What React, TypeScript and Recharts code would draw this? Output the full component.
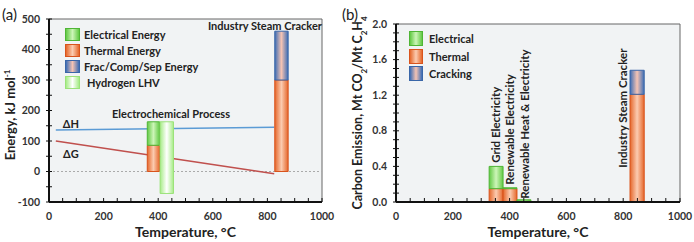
import React from "react";
import {
  CartesianGrid,
  ComposedChart,
  Line,
  ReferenceArea,
  ReferenceDot,
  ReferenceLine,
  XAxis,
  YAxis
} from "recharts";

const FONT = "Lato, 'Open Sans', sans-serif";

// shared temperature axis
const tempTicks = [0, 50, 100, 150, 200, 250, 300, 350, 400, 450, 500, 550, 600, 650, 700, 750, 800, 850, 900, 950, 1000];

// (a) energy panel
const energyTicks = [-100, -50, 0, 50, 100, 150, 200, 250, 300, 350, 400, 450, 500];
const lineTemps = [25, 825];
const deltaH = [136, 145];
const deltaG = [100, -7];
const energySegments = [
  { x0: 360, x1: 405, y0: 0, y1: 86, kind: "thermal" },
  { x0: 360, x1: 405, y0: 86, y1: 163, kind: "electrical" },
  { x0: 407, x1: 456, y0: -72, y1: 163, kind: "h2" },
  { x0: 827, x1: 876, y0: 0, y1: 300, kind: "thermal" },
  { x0: 827, x1: 876, y0: 300, y1: 460, kind: "frac" }
];
const energyLegend = [
  { kind: "electrical", label: "Electrical Energy" },
  { kind: "thermal", label: "Thermal Energy" },
  { kind: "frac", label: "Frac/Comp/Sep Energy" },
  { kind: "h2", label: "Hydrogen LHV" }
];

// (b) carbon panel
const carbonTicks = [0, 0.1, 0.2, 0.3, 0.4, 0.5, 0.6, 0.7, 0.8, 0.9, 1.0, 1.1, 1.2, 1.3, 1.4, 1.5, 1.6, 1.7, 1.8, 1.9, 2.0];
const carbonSegments = [
  { x0: 328, x1: 377, y0: 0, y1: 0.15, kind: "thermal" },
  { x0: 328, x1: 377, y0: 0.15, y1: 0.4, kind: "electrical" },
  { x0: 377, x1: 426, y0: 0, y1: 0.15, kind: "thermal" },
  { x0: 377, x1: 426, y0: 0.15, y1: 0.16, kind: "electrical" },
  { x0: 426, x1: 475, y0: 0, y1: 0.01, kind: "thermal" },
  { x0: 426, x1: 475, y0: 0.01, y1: 0.025, kind: "electrical" },
  { x0: 824, x1: 874, y0: 0, y1: 1.21, kind: "thermal" },
  { x0: 824, x1: 874, y0: 1.21, y1: 1.48, kind: "frac" }
];
const carbonLabels = [
  { t: 352, v: 0.44, text: "Grid Electricity" },
  { t: 401, v: 0.195, text: "Renewable Electricity" },
  { t: 454, v: 0.037, text: "Renewable Heat & Electricity" },
  { t: 798, v: 0.385, text: "Industry Steam Cracker" }
];
const carbonLegend = [
  { kind: "electrical", label: "Electrical" },
  { kind: "thermal", label: "Thermal" },
  { kind: "frac", label: "Cracking" }
];

const palette: Record<string, { edge: string; mid: string; stroke: string }> = {
  thermal: { edge: "#e5672b", mid: "#fbcbb0", stroke: "#d9531c" },
  electrical: { edge: "#62c944", mid: "#cdf5b8", stroke: "#4fb535" },
  frac: { edge: "#3d6db5", mid: "#f5c3b3", stroke: "#3a66a8" },
  h2: { edge: "#a6ec86", mid: "#ffffff", stroke: "#9be27a" }
};

const lineData = lineTemps.map((t, i) => ({ t, dH: deltaH[i], dG: deltaG[i] }));

function Gradients({ prefix }: { prefix: string }) {
  return (
    <defs>
      {Object.keys(palette).map((k) => (
        <linearGradient key={k} id={`${prefix}-${k}`} x1="0" y1="0" x2="1" y2="0">
          <stop offset="0%" stopColor={palette[k].edge} />
          <stop offset="50%" stopColor={palette[k].mid} />
          <stop offset="100%" stopColor={palette[k].edge} />
        </linearGradient>
      ))}
    </defs>
  );
}

const tickText = { fontFamily: FONT, fontSize: 10.5, fontWeight: 700, fill: "#333" };

function TempTick(props: any) {
  const { x, y, payload } = props;
  const v = payload.value;
  return (
    <g>
      <line x1={x} x2={x} y1={y - 14} y2={y - 18} stroke="#111" strokeWidth={1} />
      {v % 200 === 0 && (
        <text x={x} y={y} dy="0.35em" textAnchor="middle" {...tickText}>
          {v}
        </text>
      )}
    </g>
  );
}

function makeYTick(isMajor: (v: number) => boolean, fmt: (v: number) => string) {
  return function YTick(props: any) {
    const { x, y, payload } = props;
    const v = payload.value;
    const ax = x + 9;
    return (
      <g>
        <line x1={ax - 3} x2={ax + 3} y1={y} y2={y} stroke="#111" strokeWidth={1} />
        {isMajor(v) && (
          <text x={x} y={y} dy="0.35em" textAnchor="end" {...tickText}>
            {fmt(v)}
          </text>
        )}
      </g>
    );
  };
}

const EnergyTick = makeYTick((v) => v % 100 === 0, (v) => String(v));
const CarbonTick = makeYTick((v) => Math.round(v * 10) % 4 === 0, (v) => v.toFixed(1));

function LegendBox(props: {
  items: { kind: string; label: string }[];
  left: number;
  top: number;
  rowH: number;
  sw: number;
  sh: number;
  indent: (k: string) => number;
}) {
  const { items, left, top, rowH, sw, sh, indent } = props;
  return (
    <div style={{ position: "absolute", left, top, fontFamily: FONT, fontSize: 11, fontWeight: 700, color: "#222" }}>
      {items.map((it) => {
        const p = palette[it.kind];
        return (
          <div key={it.kind} style={{ display: "flex", alignItems: "center", height: rowH }}>
            <div
              style={{
                width: sw,
                height: sh,
                boxSizing: "border-box",
                border: `1px solid ${p.stroke}`,
                background: `linear-gradient(to right, ${p.edge}, ${p.mid}, ${p.edge})`
              }}
            />
            <span style={{ marginLeft: indent(it.kind), whiteSpace: "nowrap" }}>{it.label}</span>
          </div>
        );
      })}
    </div>
  );
}

function textShape(text: string, opts: { rotate?: boolean; size?: number }) {
  return (p: any) => {
    const { cx, cy } = p;
    const size = opts.size ?? 11;
    if (opts.rotate) {
      return (
        <text
          x={cx}
          y={cy}
          transform={`rotate(-90 ${cx} ${cy})`}
          dy="0.35em"
          textAnchor="start"
          fontFamily={FONT}
          fontSize={size}
          fontWeight={700}
          fill="#222"
        >
          {text}
        </text>
      );
    }
    return (
      <text x={cx} y={cy} dy="0.35em" textAnchor="middle" fontFamily={FONT} fontSize={size} fontWeight={700} fill="#222">
        {text}
      </text>
    );
  };
}

function EnergyPanel() {
  return (
    <ComposedChart width={350} height={242} data={lineData} margin={{ top: 19, right: 28, bottom: 0, left: 0 }}>
      <Gradients prefix="ga" />
      <CartesianGrid horizontal={false} vertical={false} fill="#f1f3f4" />
      <XAxis
        type="number"
        dataKey="t"
        domain={[0, 1000]}
        ticks={tempTicks}
        interval={0}
        height={40}
        tickSize={0}
        tickMargin={14}
        tickLine={false}
        tick={<TempTick />}
        axisLine={{ stroke: "#111", strokeWidth: 2 }}
        allowDataOverflow
        label={{ value: "Temperature, °C", position: "insideBottom", offset: 5, fontFamily: FONT, fontSize: 14, fontWeight: 700, fill: "#222" }}
      />
      <YAxis
        type="number"
        domain={[-100, 500]}
        ticks={energyTicks}
        interval={0}
        width={49}
        tickSize={0}
        tickMargin={9}
        tickLine={false}
        tick={<EnergyTick />}
        axisLine={{ stroke: "#111", strokeWidth: 2 }}
        allowDataOverflow
        label={{
          content: () => (
            <text
              x={10}
              y={115}
              transform="rotate(-90 10 115)"
              dy="0.35em"
              textAnchor="middle"
              fontFamily={FONT}
              fontSize={13}
              fontWeight={700}
              fill="#222"
            >
              Energy, kJ mol
              <tspan baselineShift="super" fontSize={8}>-1</tspan>
            </text>
          )
        }}
      />
      <ReferenceLine y={500} stroke="#666" strokeWidth={1} />
      <ReferenceLine x={1000} stroke="#666" strokeWidth={1} />
      <ReferenceLine y={0} stroke="#aaa" strokeDasharray="2 2" strokeWidth={1} />
      <Line dataKey="dH" stroke="#5b9bd5" strokeWidth={1.5} dot={false} isAnimationActive={false} />
      <Line dataKey="dG" stroke="#c0504d" strokeWidth={1.5} dot={false} isAnimationActive={false} />
      {energySegments.map((s, i) => (
        <ReferenceArea
          key={i}
          x1={s.x0}
          x2={s.x1}
          y1={s.y0}
          y2={s.y1}
          fill={`url(#ga-${s.kind})`}
          fillOpacity={1}
          stroke={palette[s.kind].stroke}
          strokeWidth={1}
          {...({ zIndex: 500 } as any)}
        />
      ))}
      <ReferenceDot x={80} y={155} r={1} shape={textShape("ΔH", { size: 11 })} />
      <ReferenceDot x={80} y={57} r={1} shape={textShape("ΔG", { size: 11 })} />
      <ReferenceDot x={447} y={188} r={1} shape={textShape("Electrochemical Process", { size: 11 })} />
      <ReferenceDot x={791} y={478} r={1} shape={textShape("Industry Steam Cracker", { size: 11 })} />
    </ComposedChart>
  );
}

function CarbonPanel() {
  return (
    <ComposedChart width={344} height={242} data={lineData} margin={{ top: 24, right: 14, bottom: 0, left: 0 }}>
      <Gradients prefix="gb" />
      <CartesianGrid horizontal={false} vertical={false} fill="#f1f3f4" />
      <XAxis
        type="number"
        dataKey="t"
        domain={[0, 1000]}
        ticks={tempTicks}
        interval={0}
        height={40}
        tickSize={0}
        tickMargin={14}
        tickLine={false}
        tick={<TempTick />}
        axisLine={{ stroke: "#111", strokeWidth: 2 }}
        allowDataOverflow
        label={{ value: "Temperature, °C", position: "insideBottom", offset: 5, fontFamily: FONT, fontSize: 14, fontWeight: 700, fill: "#222" }}
      />
      <YAxis
        type="number"
        domain={[0, 2]}
        ticks={carbonTicks}
        interval={0}
        width={46}
        tickSize={0}
        tickMargin={9}
        tickLine={false}
        tick={<CarbonTick />}
        axisLine={{ stroke: "#111", strokeWidth: 2 }}
        allowDataOverflow
        label={{
          content: () => (
            <text
              x={8}
              y={113}
              transform="rotate(-90 8 113)"
              dy="0.35em"
              textAnchor="middle"
              fontFamily={FONT}
              fontSize={12.5}
              fontWeight={700}
              fill="#222"
            >
              Carbon Emission, Mt CO
              <tspan baselineShift="sub" fontSize={8}>2</tspan>
              <tspan baselineShift="0">/Mt C</tspan>
              <tspan baselineShift="sub" fontSize={8}>2</tspan>
              <tspan baselineShift="0">H</tspan>
              <tspan baselineShift="sub" fontSize={8}>4</tspan>
            </text>
          )
        }}
      />
      <ReferenceLine y={2} stroke="#666" strokeWidth={1} />
      <ReferenceLine x={1000} stroke="#666" strokeWidth={1} />
      {carbonSegments.map((s, i) => (
        <ReferenceArea
          key={i}
          x1={s.x0}
          x2={s.x1}
          y1={s.y0}
          y2={s.y1}
          fill={`url(#gb-${s.kind})`}
          fillOpacity={1}
          stroke={palette[s.kind].stroke}
          strokeWidth={1}
        />
      ))}
      {carbonLabels.map((l) => (
        <ReferenceDot key={l.text} x={l.t} y={l.v} r={1} shape={textShape(l.text, { rotate: true, size: 11.5 })} />
      ))}
    </ComposedChart>
  );
}

export default function App() {
  return (
    <div style={{ position: "absolute", left: 0, top: 0, width: 694, height: 242, background: "#fff" }}>
      <div style={{ position: "absolute", left: 0, top: 0 }}>
        <EnergyPanel />
      </div>
      <div style={{ position: "absolute", left: 350, top: 0 }}>
        <CarbonPanel />
      </div>
      <LegendBox items={energyLegend} left={65} top={26} rowH={16} sw={15} sh={13} indent={(k) => (k === "h2" ? 7 : 4)} />
      <LegendBox items={carbonLegend} left={409} top={30} rowH={17.5} sw={14} sh={15} indent={() => 6} />
      <div style={{ position: "absolute", left: 2, top: 5, fontFamily: FONT, fontSize: 15, color: "#222" }}>(a)</div>
      <div style={{ position: "absolute", left: 342, top: 5, fontFamily: FONT, fontSize: 15, color: "#222" }}>(b)</div>
    </div>
  );
}
